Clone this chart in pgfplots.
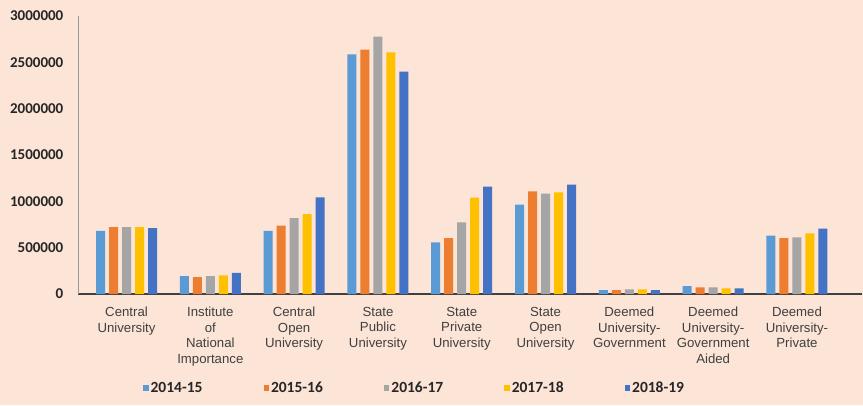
\documentclass[border=0pt]{standalone}
\usepackage{pgfplots}
\usepackage{pgfplotstable}
\pgfplotsset{compat=1.18}
\usepackage{fontspec}
\setmainfont{Liberation Sans}
\newfontfamily\carlito{Carlito}
\definecolor{bgc}{HTML}{FCE4D6}
\definecolor{c1}{HTML}{5B9BD5}
\definecolor{c2}{HTML}{ED7D31}
\definecolor{c3}{HTML}{A5A5A5}
\definecolor{c4}{HTML}{FFC000}
\definecolor{c5}{HTML}{4472C4}
\definecolor{txt}{HTML}{404040}
\definecolor{tk}{HTML}{262626}
\pgfplotstableread{
x  a       b       c       d       e
0  680000  723000  723000  723000  712000
1  194000  183000  194000  200000  227000
2  680000  737000  820000  863000  1044000
3  2587000 2636000 2777000 2608000 2399000
4  558000  604000  774000  1039000 1158000
5  964000  1108000 1082000 1097000 1180000
6  43000   43000   50000   50000   43000
7  86000   72000   72000   61000   61000
8  629000  604000  612000  655000  705000
}\datatable
\begin{document}
\begin{tikzpicture}
\fill[bgc] (-78pt,-111pt) rectangle (785pt,294pt);
\begin{axis}[
  at={(0,0)}, anchor=south west,
  scale only axis, width=784pt, height=278pt,
  ybar=4pt, bar width=9pt,
  xmin=-0.579, xmax=8.776,
  ymin=0, ymax=3000000,
  ytick={0,500000,1000000,1500000,2000000,2500000,3000000},
  scaled y ticks=false,
  /pgf/number format/fixed,
  /pgf/number format/1000 sep={},
  /pgf/number format/assume math mode=true,
  yticklabel style={font=\carlito\bfseries\fontsize{15}{17}\selectfont, text=tk, anchor=east, inner sep=0pt, xshift=-14.5pt},
  xtick=data,
  xticklabels={{Central\\University},{Institute\\of\\National\\Importance},{Central\\Open\\University},{State\\Public\\University},{State\\Private\\University},{State\\Open\\University},{Deemed\\University-\\Government},{Deemed\\University-\\Government\\Aided},{Deemed\\University-\\Private}},
  xticklabel style={align=center, font=\fontsize{13.2}{15.5}\selectfont, text=txt, anchor=north, inner sep=0pt, yshift=-13pt},
  major tick length=0pt,
  axis x line*=bottom, axis y line*=left,
  x axis line style={draw=txt, line width=1.2pt, -},
  y axis line style={draw=gray!80, line width=0.8pt, -},
  legend columns=5,
  legend style={draw=none, fill=none, at={(0.079,-0.338)}, anchor=west,
    font=\carlito\bfseries\fontsize{15.5}{18}\selectfont, text=tk,
    /tikz/every even column/.append style={column sep=59pt}},
  legend image code/.code={\fill[#1] (0.5pt,-2.8pt) rectangle (6pt,2.7pt);},
]
\addplot[fill=c1, draw=none] table[x=x,y=a]{\datatable};
\addplot[fill=c2, draw=none] table[x=x,y=b]{\datatable};
\addplot[fill=c3, draw=none] table[x=x,y=c]{\datatable};
\addplot[fill=c4, draw=none] table[x=x,y=d]{\datatable};
\addplot[fill=c5, draw=none] table[x=x,y=e]{\datatable};
\legend{2014-15,2015-16,2016-17,2017-18,2018-19}
\end{axis}
\pgfresetboundingbox
\path (-78pt,-111pt) rectangle (785pt,294pt);
\end{tikzpicture}
\end{document}
